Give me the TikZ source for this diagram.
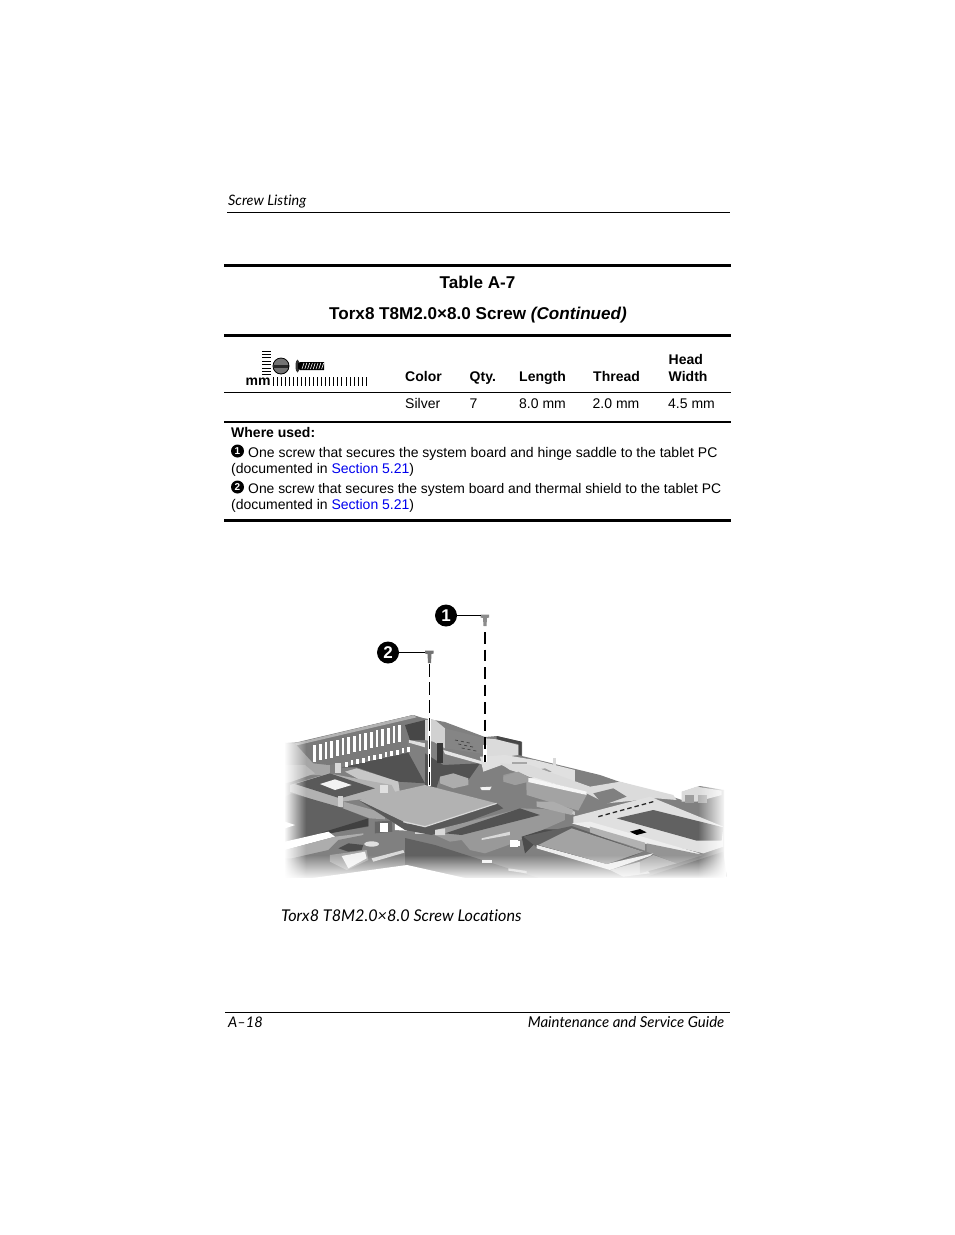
\documentclass[tikz,border=0pt]{standalone}
\usepackage{fontspec}
\setmainfont{Liberation Sans}
\newfontfamily\hpfont[Ligatures=NoCommon]{Lato}
\usetikzlibrary{fadings}
\definecolor{secblue}{RGB}{0,0,238}
\tikzset{
txt/.style={anchor=base west,inner sep=0pt,font=\fontsize{14}{17}\selectfont},
bld/.style={txt,font=\fontsize{14}{17}\selectfont\bfseries},
ttl/.style={anchor=base,inner sep=0pt,font=\fontsize{17.1}{21}\selectfont\bfseries},
hpt/.style={anchor=base west,inner sep=0pt,font=\fontsize{#1}{18}\selectfont\hpfont\itshape},
callout/.style={circle,fill=black,text=white,inner sep=0pt,minimum size=22pt,font=\fontsize{17}{17}\selectfont\bfseries},
mini/.style={circle,fill=black,text=white,inner sep=0pt,minimum size=13pt,font=\fontsize{10}{10}\selectfont\bfseries},
rule/.style={line width=#1,black},
lead/.style={line width=1.5pt,black},
gone/.style={line width=#1,black},
g/.style={fill=black!#1},
crop/.style 2 args={shift={(#1,#2)},x=.3333pt,y=-.3333pt},
}
\begin{document}
\begin{tikzpicture}[x=1pt,y=-1pt]
\useasboundingbox (0,0) rectangle (954,1235);
% page rules
\draw[rule=1pt] (227,212)--(730,212) (225,1012.5)--(730,1012.5);
\draw[rule=3pt] (224,265)--(731,265) (224,335)--(731,335) (224,520)--(731,520);
\draw[rule=1pt] (224,392.5)--(731,392.5);
\draw[rule=2pt] (224,422)--(731,422);
% header and footer
\node[hpt=14.4] (head) at (228,205) {Screw Listing};
\node[hpt=14.6] (foot) at (228,1027) {A–18};
\node[hpt=15,anchor=base east] (guide) at (724.5,1027) {Maintenance and Service Guide};
\node[hpt=16.2] (caption) at (281,921) {Torx8 T8M2.0×8.0 Screw Locations};
% table title
\node[ttl] (tabno) at (477.5,288) {Table A-7};
\node[ttl] (tabname) at (478,319) {Torx8 T8M2.0×8.0 Screw \textit{(Continued)}};
% table cells
\node[bld] (color) at (405,381) {Color};
\node[bld] (qty) at (469.5,381) {Qty.};
\node[bld] (length) at (519,381) {Length};
\node[bld] (thread) at (593,381) {Thread};
\node[bld] (hd) at (668.5,364) {Head};
\node[bld] (width) at (668.5,381) {Width};
\node[txt] (silver) at (405,408) {Silver};
\node[txt] (seven) at (469.5,408) {7};
\node[txt] (len) at (519,408) {8.0 mm};
\node[txt] (thr) at (592.5,408) {2.0 mm};
\node[txt] (wid) at (668,408) {4.5 mm};
\node[bld] (used) at (231,437) {Where used:};
\node[mini] (m1) at (237.5,451) {1};
\node[txt] (a1) at (248,457) {One screw that secures the system board and hinge saddle to the tablet PC};
\node[txt] (a2) at (231,473.5) {(documented in \textcolor{secblue}{Section 5.21})};
\node[mini] (m2) at (237.5,487) {2};
\node[txt,font=\fontsize{13.88}{17}\selectfont] (b1) at (248,493) {One screw that secures the system board and thermal shield to the tablet PC};
\node[txt] (b2) at (231,509.5) {(documented in \textcolor{secblue}{Section 5.21})};
% screw ruler
\node[bld] (mm) at (245.5,385.5) {mm};
\foreach \i in {0,...,23}
  \draw[line width=.8pt] (273+4.05*\i,377)--(273+4.05*\i,386);
\foreach \i in {0,...,7}
  \draw[line width=.8pt] (262,351+3.4*\i)--(271,351+3.4*\i);
\fill[black!55] (281,366) circle (8);
\fill[black!85] (273.5,364.5) rectangle (288.5,367.5);
\draw[line width=.8pt] (281,366) circle (8);
\fill[black!80] (297.5,366) ellipse (2 and 6.5);
\fill[black] (298,363.5)--(300,362)--(324,362)--(324,370)--(300,370)--(298,368.5)--cycle;
\foreach \i in {0,...,7}
  \draw[white,line width=.6pt] (302+2.8*\i,369)--(304+2.8*\i,363);
% board, base
\fill[black!50] (285,743)--(298,742)--(413,715)--(423,718)--(445,722)--(485,737)--(497,736)--(522,742)--(522,756)--(600,775)--(620,782)--(673,797)--(682,800)--(682,792)--(700,786)--(724,790)--(724,878)--(285,878)--cycle;
% back wall, socket
\begin{scope}[crop={285}{710}]
\fill[g=35] (0,100)--(30,100)--(85,150)--(135,165)--(135,195)--(60,195)--(0,165)--cycle;
\fill[g=28] (0,165)--(60,165)--(90,190)--(20,215)--(0,220)--cycle;
\fill[g=52] (30,100)--(385,15)--(420,30)--(420,90)--(370,95)--(365,130)--(130,165)--(85,160)--cycle;
\fill[g=30] (30,100)--(385,15)--(395,22)--(35,106)--cycle;
\fill[g=72] (360,45)--(420,30)--(420,90)--(375,90)--cycle;
\foreach \i in {0,...,15}
  \fill[white] (85+17*\i,105-4*\i) rectangle ++(8,50);
\fill[g=68] (170,172)--(370,128)--(420,220)--(340,215)--(215,172)--cycle;
\foreach \i in {0,...,11}
  \fill[white] (180+17*\i,155-4*\i) rectangle ++(8,15);
\fill[white!88!black] (372,90)--(420,100)--(420,112)--(372,98)--cycle;
\fill[g=22] (180,185)--(215,175)--(340,215)--(345,250)--(280,240)--cycle;
\fill[g=30] (15,225)--(130,190)--(320,225)--(335,255)--(170,275)--(160,295)--(15,245)--cycle;
\fill[g=65] (30,222)--(135,190)--(270,235)--(165,265)--cycle;
\fill[g=5] (105,222)--(150,208)--(200,225)--(150,240)--cycle;
\fill[g=15] (150,160) rectangle (167,190);
\fill[g=12] (285,225) rectangle (310,250);
\fill[g=18] (160,258) rectangle (175,290);
\end{scope}
% dark band under the memory slot
\fill[black!62] (405,838)--(435,845)--(545,880)--(405,880)--cycle;
% connectors lower left
\begin{scope}[crop={285}{790}]
\fill[g=62] (20,10)--(160,50)--(250,85)--(250,110)--(110,132)--(0,155)--(0,20)--cycle;
\fill[g=75] (110,128)--(250,85)--(250,108)--(110,135)--cycle;
\fill[white] (0,95)--(30,105)--(0,115)--cycle;
\fill[white] (0,155)--(130,125)--(150,140)--(0,180)--cycle;
\fill[g=32] (0,180)--(150,140)--(235,130)--(235,145)--(130,190)--(20,205)--(0,205)--cycle;
\fill[g=50] (20,205)--(130,180)--(160,150)--(235,135)--(270,120)--(350,150)--(355,185)--(260,215)--(140,230)--(100,250)--(30,240)--cycle;
\fill[g=35] (175,35)--(300,70)--(300,88)--(255,85)--(175,55)--cycle;
\fill[g=70] (160,175)--(190,160)--(235,165)--(230,180)--(190,185)--cycle;
\fill[g=35] (135,195)--(245,180)--(250,210)--(185,240)--(135,215)--cycle;
\fill[g=5] (170,198)--(240,185)--(245,205)--(190,235)--cycle;
\fill[g=12] (260,162) ellipse (22 and 8);
\fill[g=60] (270,95)--(320,92)--(322,125)--(270,130)--cycle;
\fill[white] (285,100) rectangle (310,127);
\fill[white] (330,95)--(370,100)--(365,122)--(330,120)--cycle;
\fill[g=18] (390,105) rectangle (420,132);
\fill[white!85!black] (260,205)--(355,180)--(358,188)--(265,215)--cycle;
\end{scope}
% bracket and pale plate
\begin{scope}[crop={425}{710}]
\fill[g=68] (0,130)--(55,165)--(165,160)--(130,210)--(45,200)--(35,232)--(0,232)--cycle;
\fill[g=18] (0,30)--(30,30)--(60,55)--(60,115)--(25,95)--(0,90)--cycle;
\fill[g=48] (60,55)--(178,85)--(178,132)--(60,115)--cycle;
\foreach \i in {0,1,2}
  \draw[black!75,line width=.7pt,dashed] (90+10*\i,90+12*\i)--(138+10*\i,100+12*\i);
\fill[g=78] (35,100) rectangle (55,160);
\fill[white!90!black] (55,120)--(175,155)--(178,165)--(60,132)--cycle;
\fill[g=72] (215,78)--(290,95)--(290,137)--(280,135)--(280,102)--(215,90)--cycle;
\fill[g=14] (180,85)--(215,88)--(280,105)--(280,135)--(240,140)--(180,165)--cycle;
\fill[g=12] (165,140)--(240,135)--(330,150)--(450,180)--(450,222)--(310,200)--(230,165)--(175,185)--cycle;
\fill[g=38] (320,182)--(360,175)--(380,185)--(340,190)--cycle;
\fill[g=35] (260,155) rectangle (305,162);
\fill[g=15] (383,145) rectangle (392,165);
\fill[g=32] (45,200)--(85,190)--(130,205)--(130,225)--(85,235)--(45,220)--cycle;
\fill[g=40] (235,195)--(275,185)--(310,200)--(310,215)--(270,225)--(235,210)--cycle;
\fill[g=5] (165,232)--(200,230)--(195,240)--(170,240)--cycle;
\fill[g=33] (305,205)--(350,200)--(450,235)--(450,275)--(305,240)--cycle;
\fill[g=8] (305,205)--(350,198)--(450,228)--(450,235)--cycle;
\fill[g=22] (335,275)--(390,285)--(450,305)--(450,315)--(340,290)--cycle;
\end{scope}
% card and memory slot
\begin{scope}[crop={425}{790}]
\fill[g=30] (-200,30)--(0,-15)--(215,40)--(0,110)--(-55,100)--cycle;
\fill[g=65] (-200,30)--(-55,100)--(0,110)--(215,40)--(235,55)--(20,135)--(-60,120)--cycle;
\draw[white!85!black,line width=1.2pt] (-65,95)--(0,110)--(215,40);
\fill[g=40] (30,120)--(290,55)--(420,60)--(420,90)--(250,165)--(180,190)--(135,180)--(110,150)--(75,155)--(30,135)--cycle;
\fill[g=15] (30,120)--(60,115)--(60,135)--(30,135)--cycle;
\fill[g=68] (60,130)--(285,55)--(345,75)--(110,135)--cycle;
\fill[g=15] (170,145)--(255,125)--(255,135)--(170,150)--cycle;
\fill[white] (255,150) rectangle (280,170);
\fill[g=5] (170,210) rectangle (200,220);
\fill[g=22] (250,235)--(305,243)--(305,250)--(250,242)--cycle;
\fill[g=70] (290,140)--(360,118)--(450,118)--(450,130)--(340,150)--(300,190)--cycle;
\end{scope}
% heat plate, frame and wireless card
\begin{scope}[crop={490}{720}]
\fill[g=14] (30,130)--(120,135)--(300,200)--(390,185)--(550,225)--(560,240)--(500,235)--(350,250)--(290,220)--(60,150)--cycle;
\fill[g=36] (110,185)--(290,225)--(265,272)--(110,225)--cycle;
\fill[g=4] (110,172)--(290,215)--(290,225)--(110,185)--cycle;
\fill[g=50] (310,220)--(370,205)--(410,230)--(340,255)--cycle;
\fill[g=32] (140,245)--(190,245)--(250,270)--(245,285)--(140,260)--cycle;
\fill[g=38] (40,170)--(85,155)--(115,170)--(115,185)--(75,195)--(40,185)--cycle;
\fill[g=12] (250,290)--(480,230)--(700,320)--(700,380)--(640,400)--(250,310)--cycle;
\fill[g=62] (380,295)--(490,270)--(700,322)--(695,362)--(620,362)--cycle;
\draw[black!85,line width=1.3pt,dash pattern=on 4.5pt off 3pt] (325,290)--(490,245);
\fill[black] (420,335)--(450,327)--(470,337)--(440,345)--cycle;
\fill[white!93!black] (245,310)--(300,305)--(630,400)--(600,408)--cycle;
\fill[g=30] (300,320)--(465,368)--(465,392)--(400,370)--(300,340)--cycle;
\fill[g=42] (470,370)--(640,405)--(560,430)--(470,395)--cycle;
\fill[g=62] (100,350)--(245,318)--(460,395)--(350,440)--(145,385)--cycle;
\fill[white!93!black] (140,375)--(350,432)--(490,400)--(480,408)--(360,450)--(140,385)--cycle;
\fill[g=36] (145,375)--(245,325)--(460,395)--(350,432)--cycle;
\fill[g=20] (360,450)--(450,425)--(480,460)--(400,470)--cycle;
\fill[g=32] (450,425)--(490,405)--(560,430)--(450,460)--cycle;
\fill[g=62] (470,470)--(700,395)--(710,470)--cycle;
\fill[g=14] (575,215)--(620,200)--(695,212)--(695,225)--(620,245)--(575,245)--cycle;
\fill[g=38] (585,225) rectangle (612,250);
\fill[g=30] (625,225) rectangle (650,250);
\fill[g=50] (62,385) rectangle (90,400);
\fill[white] (65,362) rectangle (90,378);
\end{scope}
% fade the edges of the picture
\fill[white] (313,878)--(385,868)--(407,865)--(465,878)--cycle;
\fill[white,path fading=east] (284,715) rectangle (306,882);
\fill[white,path fading=west] (698,780) rectangle (726,882);
\fill[white,path fading=north] (284,855) rectangle (728,880);
\fill[white] (284,878) rectangle (728,884);
% screws and callouts
\node[callout] (c1) at (446,615.5) {1};
\node[callout] (c2) at (388,652.5) {2};
\fill[black!45] (480.5,614.5)--(489,614.5)--(489,617.5)--(487,618)--(486.5,626)--(483.5,626)--(483,618)--(480.5,617.5)--cycle;
\fill[black!55] (425,650.5)--(433.5,650.5)--(433.5,653.5)--(431.5,654)--(431,663)--(428,663)--(427.5,654)--(425,653.5)--cycle;
\coordinate (s1) at (480.5,615.5);
\coordinate (s2) at (425,652.5);
\coordinate (h1) at (485,632);
\coordinate (e1) at (485,762);
\coordinate (h2) at (429.5,664);
\coordinate (e2) at (429.5,786);
\draw[lead] (c1)--(s1);
\draw[lead] (c2)--(s2);
\draw[white,line width=3.5pt] (485,745)--(e1);
\draw[white,line width=3.5pt] (429.5,716)--(e2);
\draw[gone=2.4pt,dash pattern=on 11.5pt off 6pt] (h1)--(e1);
\draw[gone=1.6pt,dash pattern=on 13pt off 5pt] (h2)--(e2);
\end{tikzpicture}
\end{document}
